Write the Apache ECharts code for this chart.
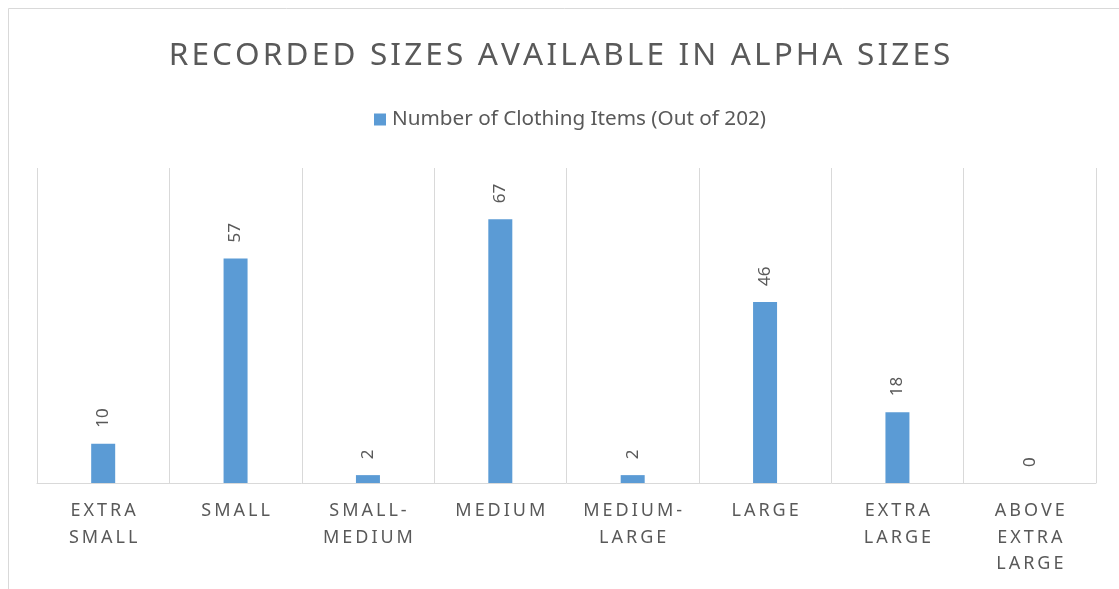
<!DOCTYPE html>
<html>
<head>
<meta charset="utf-8">
<script src="https://cdn.jsdelivr.net/npm/echarts@6/dist/echarts.min.js"></script>
<style>
html,body{margin:0;padding:0;background:#fff;}
#chart{width:1119px;height:589px;}
</style>
</head>
<body>
<div id="chart"></div>
<script>
const categories = ['EXTRA SMALL', 'SMALL', 'SMALL-MEDIUM', 'MEDIUM', 'MEDIUM-LARGE', 'LARGE', 'EXTRA LARGE', 'ABOVE EXTRA LARGE'];
const categoryLines = ['EXTRA\nSMALL', 'SMALL', 'SMALL-\nMEDIUM', 'MEDIUM', 'MEDIUM-\nLARGE', 'LARGE', 'EXTRA\nLARGE', 'ABOVE\nEXTRA\nLARGE'];
const values = [10, 57, 2, 67, 2, 46, 18, 0];
const seriesName = 'Number of Clothing Items (Out of 202)';
const titleText = 'RECORDED SIZES AVAILABLE IN ALPHA SIZES';

function spaced(s, sp) {
  return s.split('\n').map(line => line.split('').join(sp)).join('\n');
}

const chart = echarts.init(document.getElementById('chart'), null, {renderer: 'canvas'});
chart.setOption({
  animation: false,
  backgroundColor: '#fff',
  title: {
    text: spaced(titleText, '\u200A'),
    left: 'center',
    top: 35,
    textStyle: {fontFamily: 'Noto Sans', fontSize: 31.5, fontWeight: 'normal', color: '#595959'}
  },
  legend: {
    top: 104,
    left: 369,
    itemWidth: 12,
    itemHeight: 12,
    icon: 'rect',
    itemGap: 6,
    textStyle: {fontFamily: 'Noto Sans', fontSize: 20.7, color: '#595959', padding: [0, 0, 0, 1]},
    data: [seriesName]
  },
  graphic: [{
    type: 'rect',
    shape: {x: 8.5, y: 8.5, width: 1300, height: 800},
    style: {fill: 'none', stroke: '#d9d9d9', lineWidth: 1},
    silent: true
  }],
  grid: {left: 37, right: 23, top: 168, bottom: 106, containLabel: false},
  xAxis: {
    type: 'category',
    data: categories,
    boundaryGap: true,
    axisLine: {lineStyle: {color: '#d9d9d9', width: 1}},
    axisTick: {show: false},
    splitLine: {show: true, lineStyle: {color: '#d9d9d9', width: 1}},
    axisLabel: {
      interval: 0,
      margin: 15,
      fontFamily: 'Noto Sans',
      fontSize: 18,
      lineHeight: 26.5,
      color: '#595959',
      formatter: function (v, i) { return spaced(categoryLines[i], '\u2009'); }
    }
  },
  yAxis: {
    type: 'value',
    min: 0,
    max: 80,
    show: false,
    splitLine: {show: false}
  },
  series: [{
    name: seriesName,
    type: 'bar',
    data: values,
    barWidth: 24,
    itemStyle: {color: '#5b9bd5'},
    label: {
      show: true,
      position: 'top',
      distance: 16,
      rotate: 90,
      align: 'left',
      verticalAlign: 'middle',
      fontFamily: 'Noto Sans',
      fontSize: 17,
      color: '#595959'
    }
  }]
});
</script>
</body>
</html>
